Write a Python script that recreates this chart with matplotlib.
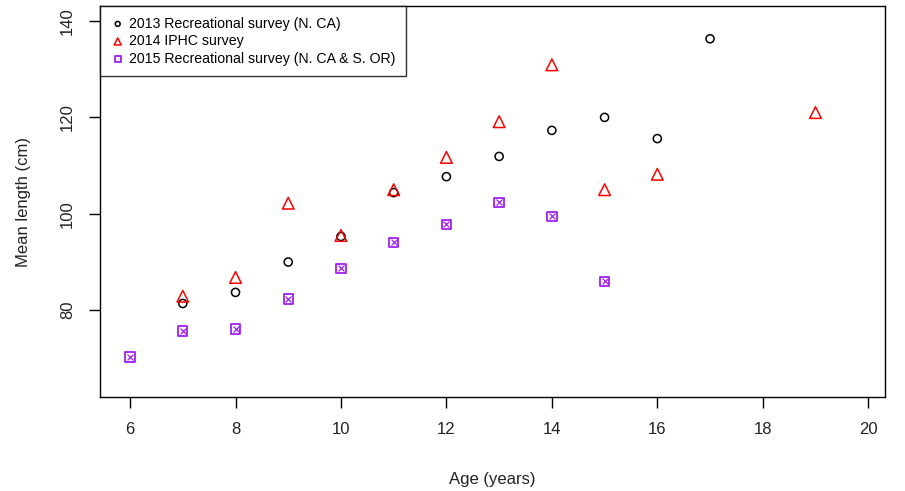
import matplotlib
matplotlib.use("Agg")
import matplotlib.pyplot as plt

plt.rcParams['font.family'] = ['Liberation Sans', 'DejaVu Sans']

age_2013 = [7, 8, 9, 10, 11, 12, 13, 14, 15, 16, 17]
len_2013 = [81.4, 83.7, 90.0, 95.3, 104.4, 107.7, 111.9, 117.3, 120.0, 115.6, 136.3]

age_2014 = [7, 8, 9, 10, 11, 12, 13, 14, 15, 16, 19]
len_2014 = [82.9, 86.8, 102.2, 95.5, 105.0, 111.7, 119.1, 130.9, 105.0, 108.2, 121.0]

age_2015 = [6, 7, 8, 9, 10, 11, 12, 13, 14, 15]
len_2015 = [70.3, 75.7, 76.1, 82.3, 88.7, 94.1, 97.8, 102.4, 99.5, 86.0]

labels = ["2013 Recreational survey (N. CA)",
          "2014 IPHC survey",
          "2015 Recreational survey (N. CA & S. OR)"]

fig = plt.figure(figsize=(9.05, 4.91), dpi=100)
ax = fig.add_axes([0.1105, 0.1914, 0.8675, 0.7964])

ax.scatter(age_2013, len_2013, marker='o', s=34, facecolors='none',
           edgecolors='black', linewidths=1.1, label=labels[0])
ax.scatter(age_2014, len_2014, marker='^', s=70, facecolors='none',
           edgecolors='red', linewidths=1.1, label=labels[1])
ax.scatter(age_2015, len_2015, marker='s', s=45, facecolors='none',
           edgecolors='#a020f0', linewidths=1.3, label=labels[2])
ax.scatter(age_2015, len_2015, marker='x', s=18, color='#a020f0',
           linewidths=0.9)

ax.set_xlim(5.43, 20.32)
ax.set_ylim(62, 143.1)
ax.set_xticks(range(6, 21, 2))
ax.set_yticks([80, 100, 120, 140])
ax.tick_params(direction='out', length=8, width=1, labelsize=12,
               labelcolor='#222222', pad=10)
for lab in ax.get_yticklabels():
    lab.set_rotation(90)
    lab.set_va('center')
for sp in ax.spines.values():
    sp.set_linewidth(1)

ax.set_xlabel("Age (years)", fontsize=12, labelpad=25, color='#222222')
ax.set_ylabel("Mean length (cm)", fontsize=12, labelpad=21, color='#222222')

leg = ax.legend(loc='upper left', fontsize=10.2, frameon=True, fancybox=False,
                edgecolor='black', borderaxespad=0, handletextpad=0.3,
                labelspacing=0.25, markerscale=0.6, handlelength=1.0,
                borderpad=0.75)
leg.get_frame().set_linewidth(1)

fig.savefig("out.png", dpi=100)
